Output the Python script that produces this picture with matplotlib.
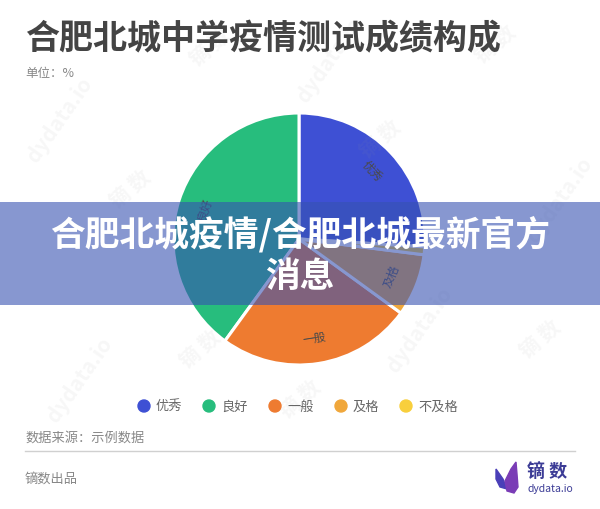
import matplotlib.pyplot as plt
import numpy as np
from matplotlib.patches import Rectangle, Circle, Polygon

plt.rcParams['font.family'] = ['Noto Sans CJK SC', 'DejaVu Sans']

# 数据
categories = ['优秀', '良好', '一般', '及格', '不及格']
values = [26, 40, 25, 8, 1]
colors = ['#3e50d4', '#27bd7d', '#ee7b30', '#f0a73b', '#f8cf3c']

title = '合肥北城中学疫情测试成绩构成'
unit = '单位：%'
source = '数据来源：示例数据'
banner = '合肥北城疫情/合肥北城最新官方\n消息'

W, H = 600, 510
fig = plt.figure(figsize=(6, 5.1), dpi=100)

# 饼图 (1单位 = 1像素)
cx, cy, R = 299, 240, 126
ax = fig.add_axes([(cx - 130) / W, 1 - (cy + 130) / H, 260 / W, 260 / H])
ax.set_zorder(1)

wedges, _ = ax.pie(values, colors=colors, radius=R, startangle=-3.6,
                   counterclock=True,
                   wedgeprops=dict(edgecolor='white', linewidth=2.2,
                                   joinstyle='round'))
ax.set_xlim(-130, 130)
ax.set_ylim(-130, 130)
ax.set_aspect('equal')
ax.axis('off')

# 扇区标签 (切向)
for w, name, v in zip(wedges, categories, values):
    if v < 3:
        continue
    mid = (w.theta1 + w.theta2) / 2
    r = 0.79 * R
    rot = mid - 90
    if rot < -90:
        rot += 180
    if rot > 90:
        rot -= 180
    ax.text(r * np.cos(np.radians(mid)), r * np.sin(np.radians(mid)), name,
            rotation=rot, ha='center', va='center', fontsize=8.5,
            color='#4a4a4a', rotation_mode='anchor')

# 叠加层 (像素坐标)
ov = fig.add_axes([0, 0, 1, 1])
ov.set_xlim(0, W)
ov.set_ylim(H, 0)
ov.axis('off')
ov.set_zorder(2)
ov.patch.set_alpha(0)

# 水印
for (x, y, t, rot) in [(330, 60, 'dydata.io', 55), (210, 48, '镝 数', 40),
                       (495, 45, '镝 数', 40), (560, 200, 'dydata.io', 55),
                       (60, 120, 'dydata.io', 55), (130, 190, '镝 数', 40),
                       (380, 140, '镝 数', 40), (420, 330, 'dydata.io', 55),
                       (200, 350, '镝 数', 40), (540, 340, '镝 数', 40),
                       (80, 380, 'dydata.io', 55), (300, 400, '镝 数', 40)]:
    ov.text(x, y, t, rotation=rot, ha='center', va='center', fontsize=15,
            color='#999999', alpha=0.08, fontweight='bold', zorder=1)

ov.text(25, 39, title, fontsize=24.5, color='#444444', fontweight='bold',
        ha='left', va='center', zorder=3)
ov.text(25, 73, unit, fontsize=9, color='#888888', ha='left', va='center',
        zorder=3)

# 图例
legend_x = [144, 209, 275, 341, 406]
for x, name, c in zip(legend_x, categories, colors):
    ov.add_patch(Circle((x, 407), 6, color=c, zorder=3))
    ov.text(x + 12, 407, name, fontsize=9.5, color='#666666', ha='left',
            va='center', zorder=3)

ov.text(25, 438, source, fontsize=9.5, color='#888888', ha='left',
        va='center', zorder=3)
ov.plot([25, 575], [452, 452], color='#d0d0d0', linewidth=1, zorder=3)
ov.text(25, 479, '镝数出品', fontsize=9.5, color='#888888', ha='left',
        va='center', zorder=3)

# 标志
ov.add_patch(Polygon([(496, 470), (503, 480), (507, 490), (500, 488),
                      (496, 480)], color='#4a3fb8', zorder=3))
ov.add_patch(Polygon([(516, 463), (511, 470), (505, 482), (507, 492),
                      (514, 494), (518, 488), (517, 475)],
                     color='#7a3cb6', zorder=3))
ov.text(527, 471, '镝 数', fontsize=13, color='#3c3c96', fontweight='bold',
        ha='left', va='center', zorder=3)
ov.text(528, 489, 'dydata.io', fontsize=7.5, color='#3c3c96', ha='left',
        va='center', zorder=3)

# 标题横幅
ov.add_patch(Rectangle((0, 203), W, 103, facecolor=(55 / 255, 82 / 255,
                       177 / 255), alpha=0.6, edgecolor='none', zorder=5))
ov.text(300, 255, banner, fontsize=25, color='white', fontweight='heavy',
        ha='center', va='center', linespacing=1.25, zorder=6)

fig.savefig('out.png', dpi=100)
